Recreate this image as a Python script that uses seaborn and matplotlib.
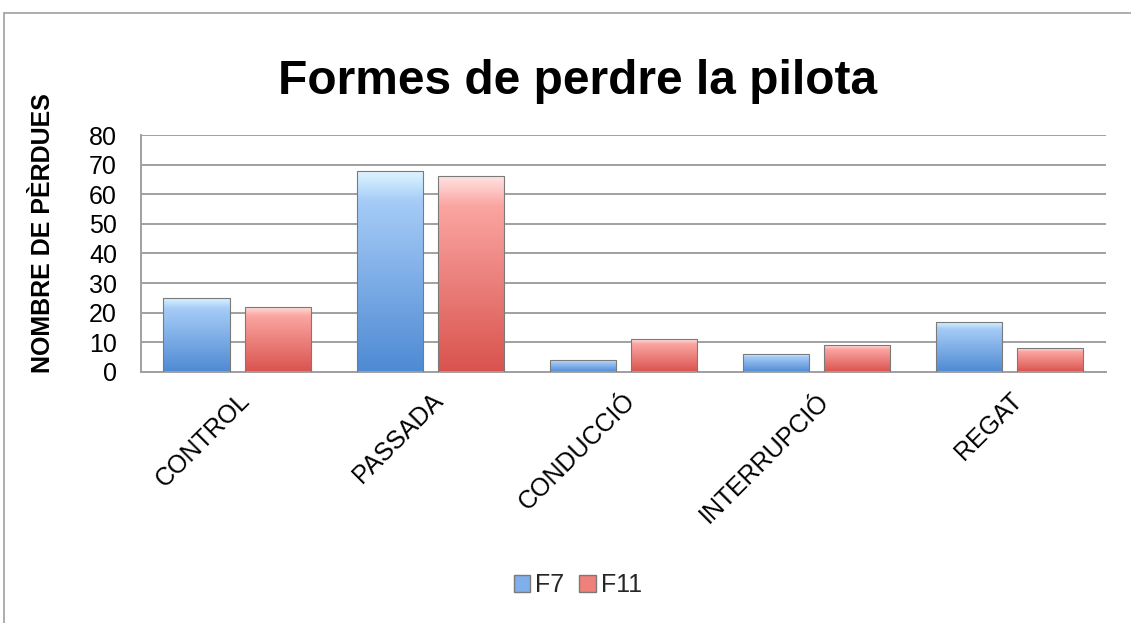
import numpy as np
import pandas as pd
import matplotlib
matplotlib.use("Agg")
import matplotlib.pyplot as plt
import seaborn as sns
from matplotlib.colors import LinearSegmentedColormap
from matplotlib.patches import Patch
from matplotlib.lines import Line2D

categories = ["CONTROL", "PASSADA", "CONDUCCIÓ", "INTERRUPCIÓ", "REGAT"]
f7_values = [25, 68, 4, 6, 17]
f11_values = [22, 66, 11, 9, 8]
series_names = ["F7", "F11"]
title_text = "Formes de perdre la pilota"
ylabel_text = "NOMBRE DE PÈRDUES"
y_ticks = [0, 10, 20, 30, 40, 50, 60, 70, 80]

blue = "#7FB0EC"
red = "#F0807A"

df = pd.DataFrame({
    "cat": categories * 2,
    "val": f7_values + f11_values,
    "series": [series_names[0]] * len(categories) + [series_names[1]] * len(categories),
})

sns.set_theme(style="white")
plt.rcParams["font.family"] = ["Liberation Sans", "DejaVu Sans"]

fig = plt.figure(figsize=(11.31, 6.23), dpi=100)
ax = fig.add_axes([0.1244, 0.4029, 0.978 - 0.1244, 0.7833 - 0.4029])

sns.barplot(data=df, x="cat", y="val", hue="series", palette=[blue, red],
            width=0.84, gap=0.18, ax=ax, legend=False, saturation=1,
            edgecolor="#7A7A7A", linewidth=0.8, zorder=3)

ax.set_ylim(0, 80)
ax.set_yticks(y_ticks)
ax.yaxis.grid(True, color="#A0A0A0", linewidth=1.4, zorder=0)
ax.set_axisbelow(True)
for s in ["top", "right"]:
    ax.spines[s].set_visible(False)
for s in ["left", "bottom"]:
    ax.spines[s].set_color("#A0A0A0")
    ax.spines[s].set_linewidth(1.4)

cmap_blue = LinearSegmentedColormap.from_list("b", [(0, "#4E8AD3"), (0.85, "#A6CCF7"), (0.93, "#C4E4FC"), (1.0, "#E2F4FF")])
cmap_red = LinearSegmentedColormap.from_list("r", [(0, "#D9534E"), (0.85, "#FBA5A1"), (0.93, "#FDC6C3"), (1.0, "#FFE3E1")])

xlim = ax.get_xlim()
grad = np.linspace(0, 1, 256).reshape(-1, 1)
for p in list(ax.patches):
    fc = p.get_facecolor()
    is_blue = fc[2] > fc[0]
    x0, y0 = p.get_x(), p.get_y()
    w, h = p.get_width(), p.get_height()
    im = ax.imshow(grad, extent=[x0, x0 + w, y0, y0 + h], origin="lower",
                   aspect="auto", cmap=cmap_blue if is_blue else cmap_red,
                   zorder=2.5, interpolation="bilinear")
    im.set_clip_path(p)
    p.set_facecolor("none")
ax.set_xlim(xlim)
ax.set_ylim(0, 80)

ax.set_xlabel("")
ax.set_ylabel(ylabel_text, fontsize=18, fontweight="bold", color="black")
ax.yaxis.set_label_coords(-0.089, 0.585)
ax.tick_params(axis="y", length=0, pad=17, labelsize=18, labelcolor="black")
ax.tick_params(axis="x", length=0, pad=12, labelsize=18, labelcolor="black")
for lbl in ax.get_xticklabels():
    lbl.set_rotation(45)
    lbl.set_ha("right")
    lbl.set_rotation_mode("anchor")

fig.text(0.511, 0.869, title_text, ha="center", va="center", fontsize=34.5, fontweight="bold", color="black")

handles = [Patch(facecolor=blue, edgecolor="#7A7A7A"), Patch(facecolor=red, edgecolor="#7A7A7A")]
fig.legend(handles, series_names, loc="center", bbox_to_anchor=(0.511, 0.061), ncol=2, frameon=False,
           fontsize=18, handlelength=0.65, handleheight=0.65, handletextpad=0.2, columnspacing=0.6)

fig.add_artist(Line2D([4 / 1131, 4 / 1131], [0, 1 - 13 / 623], transform=fig.transFigure, color="#A0A0A0", linewidth=1.2))
fig.add_artist(Line2D([4 / 1131, 1], [1 - 13 / 623, 1 - 13 / 623], transform=fig.transFigure, color="#A0A0A0", linewidth=1.2))

fig.savefig("out.png", dpi=100)
